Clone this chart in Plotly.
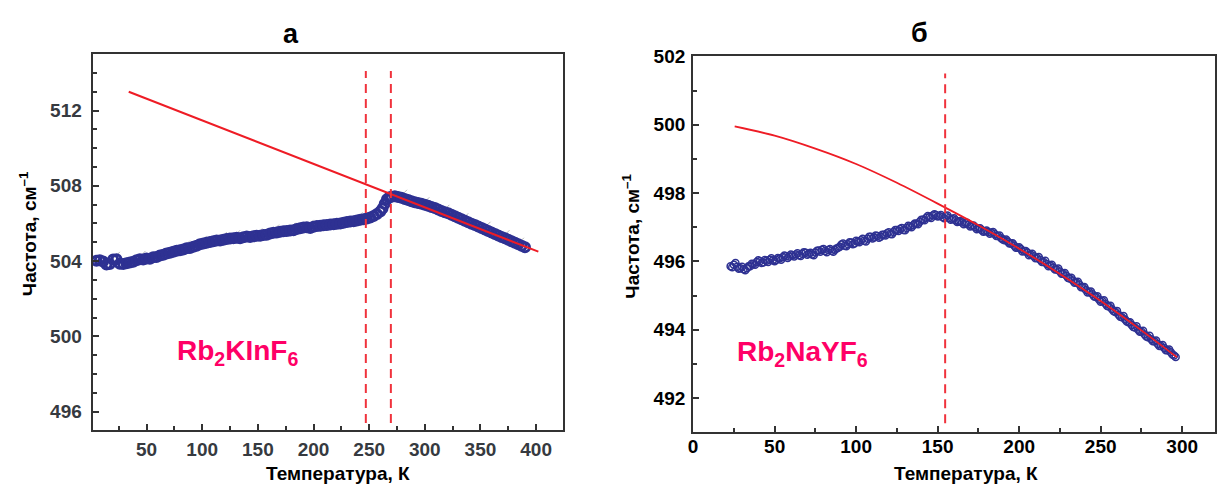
import plotly.graph_objects as go

W, H = 1217, 486

# ---- Panel а: Rb2KInF6 ----
temp_a = [5, 8, 11, 14, 17, 20, 23, 26, 29, 32, 35, 38, 41, 44, 47, 50, 53, 56, 59, 62,
          65, 68, 71, 74, 77, 80, 83, 86, 89, 92, 95, 98, 101, 104, 107, 110, 113, 116, 119, 122,
          125, 128, 131, 134, 137, 140, 143, 146, 149, 152, 155, 158, 161, 164, 167, 170, 173, 176, 179, 182,
          185, 188, 191, 194, 197, 200, 203, 206, 209, 212, 215, 218, 221, 224, 227, 230, 233, 236, 239, 242,
          245, 248, 251, 254, 257, 260, 262, 264, 266, 268, 270, 273, 276, 279, 282, 285, 288, 291, 294, 297,
          300, 303, 306, 309, 312, 315, 318, 321, 324, 327, 330, 333, 336, 339, 342, 345, 348, 351, 354, 357,
          360, 363, 366, 369, 372, 375, 378, 381, 384, 387, 390]
freq_a = [504.02, 504.05, 503.98, 503.82, 503.85, 504.08, 504.10, 503.86, 503.84, 503.88,
          503.92, 503.97, 504.05, 504.10, 504.08, 504.14, 504.12, 504.20, 504.22, 504.30,
          504.34, 504.40, 504.44, 504.50, 504.55, 504.58, 504.62, 504.68, 504.70, 504.76,
          504.82, 504.90, 504.94, 504.98, 505.02, 505.05, 505.10, 505.10, 505.14, 505.18,
          505.20, 505.22, 505.24, 505.22, 505.26, 505.30, 505.28, 505.32, 505.35, 505.34,
          505.38, 505.40, 505.46, 505.50, 505.52, 505.56, 505.58, 505.60, 505.62, 505.64,
          505.70, 505.74, 505.78, 505.80, 505.76, 505.82, 505.86, 505.88, 505.90, 505.92,
          505.94, 505.96, 505.98, 506.00, 506.04, 506.08, 506.10, 506.12, 506.16, 506.20,
          506.22, 506.26, 506.32, 506.40, 506.50, 506.64, 506.80, 507.05, 507.28, 507.38,
          507.42, 507.44, 507.40, 507.36, 507.30, 507.24, 507.18, 507.12, 507.08, 507.04,
          507.00, 506.94, 506.88, 506.82, 506.74, 506.66, 506.60, 506.54, 506.46, 506.38,
          506.30, 506.22, 506.14, 506.06, 505.98, 505.92, 505.84, 505.76, 505.68, 505.60,
          505.52, 505.44, 505.36, 505.28, 505.22, 505.14, 505.06, 504.98, 504.90, 504.82,
          504.74]
# faint grey marks scattered along the band
grey_t_a = [22, 45, 62, 85, 100, 118, 130, 150, 165, 180, 196, 240, 257, 264, 280, 300, 318, 335, 355, 372, 385]
grey_f_a = [504.25, 504.30, 504.45, 504.85, 505.10, 505.30, 505.40, 505.50, 505.70, 505.80, 505.95,
            506.35, 506.70, 507.30, 507.55, 507.15, 506.75, 506.30, 505.85, 505.40, 505.00]
fit_t_a = [34, 402]
fit_f_a = [513.0, 504.5]
trans_t_a = [247, 269.5]
trans_span_a = [495.4, 514.1]

# ---- Panel б: Rb2NaYF6 (two interleaved scans) ----
temp_b = [23, 25, 27, 29, 31, 33, 35, 37, 39, 41, 43, 45, 47, 49, 51, 53, 55, 57, 59, 61,
          63, 65, 67, 69, 71, 73, 75, 77, 79, 81, 83, 85, 87, 89, 91, 93, 95, 97, 99, 101,
          103, 105, 107, 109, 111, 113, 115, 117, 119, 121, 123, 125, 127, 129, 131, 133, 135, 137, 139, 141,
          143, 145, 147, 149, 151, 153, 155, 157, 159, 161, 163, 165, 167, 169, 171, 173, 175, 177, 179, 181,
          183, 185, 187, 189, 191, 193, 195, 197, 199, 201, 203, 205, 207, 209, 211, 213, 215, 217, 219, 221,
          223, 225, 227, 229, 231, 233, 235, 237, 239, 241, 243, 245, 247, 249, 251, 253, 255, 257, 259, 261,
          263, 265, 267, 269, 271, 273, 275, 277, 279, 281, 283, 285, 287, 289, 291, 293, 295, 296]
freq_b = [495.86, 495.90, 495.84, 495.80, 495.77, 495.80, 495.86, 495.92, 495.98, 496.00,
          495.97, 496.02, 496.05, 496.03, 496.04, 496.08, 496.12, 496.15, 496.14, 496.18,
          496.20, 496.18, 496.22, 496.25, 496.22, 496.20, 496.26, 496.32, 496.34, 496.30,
          496.33, 496.31, 496.34, 496.40, 496.49, 496.46, 496.50, 496.55, 496.52, 496.58,
          496.62, 496.60, 496.66, 496.72, 496.70, 496.74, 496.72, 496.78, 496.82, 496.80,
          496.86, 496.92, 496.95, 496.92, 496.98, 497.03, 497.06, 497.10, 497.16, 497.22,
          497.28, 497.30, 497.34, 497.36, 497.33, 497.30, 497.32, 497.27, 497.24, 497.20,
          497.17, 497.14, 497.12, 497.08, 497.04, 497.00, 496.96, 496.92, 496.88, 496.86,
          496.84, 496.80, 496.74, 496.68, 496.62, 496.58, 496.52, 496.46, 496.40, 496.36,
          496.30, 496.26, 496.20, 496.15, 496.10, 496.04, 495.98, 495.92, 495.88, 495.82,
          495.76, 495.70, 495.64, 495.58, 495.50, 495.44, 495.38, 495.32, 495.24, 495.16,
          495.10, 495.04, 494.96, 494.88, 494.84, 494.76, 494.68, 494.60, 494.52, 494.44,
          494.36, 494.30, 494.22, 494.14, 494.06, 494.00, 493.94, 493.86, 493.78, 493.72,
          493.66, 493.58, 493.52, 493.46, 493.40, 493.34, 493.24, 493.20]
temp_b2 = [24, 26, 28, 30, 32, 34, 36, 38, 40, 42, 44, 46, 48, 50, 52, 54, 56, 58, 60, 62,
           64, 66, 68, 70, 72, 74, 76, 78, 80, 82, 84, 86, 88, 90, 92, 94, 96, 98, 100, 102,
           104, 106, 108, 110, 112, 114, 116, 118, 120, 122, 124, 126, 128, 130, 132, 134, 136, 138, 140, 142,
           144, 146, 148, 150, 152, 154, 156, 158, 160, 162, 164, 166, 168, 170, 172, 174, 176, 178, 180, 182,
           184, 186, 188, 190, 192, 194, 196, 198, 200, 202, 204, 206, 208, 210, 212, 214, 216, 218, 220, 222,
           224, 226, 228, 230, 232, 234, 236, 238, 240, 242, 244, 246, 248, 250, 252, 254, 256, 258, 260, 262,
           264, 266, 268, 270, 272, 274, 276, 278, 280, 282, 284, 286, 288, 290, 292, 294]
freq_b2 = [495.83, 495.95, 495.78, 495.84, 495.74, 495.86, 495.93, 495.90, 496.03, 495.95,
           496.04, 495.98, 496.09, 496.00, 496.10, 496.05, 496.17, 496.10, 496.20, 496.14,
           496.24, 496.16, 496.27, 496.19, 496.25, 496.18, 496.31, 496.28, 496.36, 496.27,
           496.36, 496.28, 496.38, 496.43, 496.52, 496.44, 496.56, 496.50, 496.60, 496.56,
           496.66, 496.58, 496.72, 496.67, 496.76, 496.69, 496.78, 496.76, 496.85, 496.79,
           496.92, 496.89, 496.98, 496.91, 497.04, 497.00, 497.11, 497.09, 497.22, 497.20,
           497.33, 497.27, 497.38, 497.31, 497.36, 497.26, 497.34, 497.22, 497.26, 497.15,
           497.18, 497.09, 497.13, 497.02, 497.05, 496.94, 496.97, 496.87, 496.90, 496.81,
           496.86, 496.74, 496.76, 496.64, 496.64, 496.52, 496.53, 496.40, 496.41, 496.29,
           496.30, 496.18, 496.22, 496.09, 496.13, 495.98, 496.02, 495.86, 495.90, 495.76,
           495.79, 495.64, 495.66, 495.51, 495.52, 495.37, 495.40, 495.24, 495.25, 495.09,
           495.12, 494.97, 494.98, 494.82, 494.86, 494.69, 494.70, 494.54, 494.55, 494.38,
           494.40, 494.24, 494.22, 494.08, 494.10, 493.94, 493.97, 493.80, 493.82, 493.66,
           493.68, 493.52, 493.55, 493.40, 493.42, 493.27]
fit_t_b = [25.5, 50, 75, 100, 125, 150, 175, 200, 225, 250, 275, 296.8]
fit_f_b = [499.95, 499.68, 499.30, 498.85, 498.30, 497.69, 497.055, 496.37, 495.632, 494.84, 493.98, 493.19]
trans_t_b = [154.6]
trans_span_b = [491.26, 501.5]

BLUE = "#2E3192"
RED = "#EE1C25"
DASH_RED = "#F0323C"
PINK = "#FF0066"
FONT = "Liberation Sans"

fig = go.Figure()

fig.add_trace(go.Scatter(x=grey_t_a, y=grey_f_a, mode="markers", xaxis="x", yaxis="y",
                         marker=dict(symbol="line-ne", size=9, line=dict(color="#B8B8B8", width=1)),
                         showlegend=False, hoverinfo="skip"))
fig.add_trace(go.Scatter(x=temp_a, y=freq_a, mode="markers", xaxis="x", yaxis="y",
                         marker=dict(symbol="circle-open", size=9, color=BLUE,
                                     line=dict(width=3, color=BLUE)),
                         showlegend=False))
fig.add_trace(go.Scatter(x=fit_t_a, y=fit_f_a, mode="lines", xaxis="x", yaxis="y",
                         line=dict(color=RED, width=2), showlegend=False))

for tt, ff in ((temp_b, freq_b), (temp_b2, freq_b2)):
    fig.add_trace(go.Scatter(x=tt, y=ff, mode="markers", xaxis="x2", yaxis="y2",
                             marker=dict(symbol="circle-open", size=7, color=BLUE,
                                         line=dict(width=1.5, color=BLUE)),
                             showlegend=False))
fig.add_trace(go.Scatter(x=fit_t_b, y=fit_f_b, mode="lines", xaxis="x2", yaxis="y2",
                         line=dict(color=RED, width=1.8, shape="spline", smoothing=0.8), showlegend=False))

shapes = []
for t in trans_t_a:
    shapes.append(dict(type="line", xref="x", yref="y", x0=t, x1=t, y0=trans_span_a[0], y1=trans_span_a[1],
                       line=dict(color=DASH_RED, width=2, dash="9px,6px")))
for t in trans_t_b:
    shapes.append(dict(type="line", xref="x2", yref="y2", x0=t, x1=t, y0=trans_span_b[0], y1=trans_span_b[1],
                       line=dict(color=DASH_RED, width=2, dash="9px,6px")))


def px(x):
    return x / W


def py(y):
    return 1 - y / H


def axis_common(label_color, standoff):
    return dict(showline=True, mirror=True, linecolor="#333333", linewidth=2,
                ticks="inside", ticklen=6, tickwidth=1.5, tickcolor="#333333",
                showgrid=False, zeroline=False,
                tickfont=dict(family=FONT, size=19, color=label_color, weight="bold"),
                ticklabelstandoff=standoff)


minor_x = dict(ticks="inside", ticklen=4, dtick=25, tick0=0, tickcolor="#333333", tickwidth=1.5)
minor_y = dict(ticks="inside", ticklen=4, dtick=1, tick0=0, tickcolor="#333333", tickwidth=1.5)

xa = axis_common("#363A40", 1)
xa.update(domain=[px(88), px(560.6)], range=[1.5, 424], tick0=0, dtick=50, anchor="y", minor=minor_x)
ya = axis_common("#363A40", 5)
ya.update(domain=[py(429.3), py(45)], range=[495, 515], tick0=0, dtick=4, anchor="x", minor=minor_y)
xb = axis_common("#000000", -4)
xb.update(domain=[px(691.5), px(1215.8)], range=[-0.01, 320], tick0=0, dtick=50, anchor="y2", minor=minor_x)
yb = axis_common("#000000", 2)
yb.update(domain=[py(431), py(46.7)], range=[491, 502.02], tick0=0, dtick=2, anchor="x2", minor=minor_y)

title_font = dict(family=FONT, size=19, color="#000000", weight="bold")
label_font = dict(family=FONT, size=28, color=PINK, weight="bold")
panel_font = dict(family=FONT, size=27, color="#000000", weight="bold")


def note(text, x, y, font, xanchor="center", angle=0):
    return dict(text=text, x=px(x), y=py(y), xref="paper", yref="paper", showarrow=False,
                xanchor=xanchor, yanchor="middle", textangle=angle, font=font)


annotations = [
    note("а", 287, 25, panel_font),
    note("б", 918.7, 23, panel_font),
    note("Температура, К", 334.8, 473, title_font),
    note("Температура, К", 966, 473, title_font),
    note("Частота, см<sup>–1</sup>", 23, 228, title_font, angle=-90),
    note("Частота, см<sup>–1</sup>", 629.5, 231, title_font, angle=-90),
    note("Rb<sub>2</sub>KInF<sub>6</sub>", 171, 350, label_font, xanchor="left"),
    note("Rb<sub>2</sub>NaYF<sub>6</sub>", 734, 351, label_font, xanchor="left"),
]

fig.update_layout(
    width=W, height=H,
    margin=dict(l=0, r=0, t=0, b=0),
    paper_bgcolor="white", plot_bgcolor="white",
    xaxis=xa, yaxis=ya, xaxis2=xb, yaxis2=yb,
    shapes=shapes, annotations=annotations,
    showlegend=False,
)

fig.write_html("out.html")
